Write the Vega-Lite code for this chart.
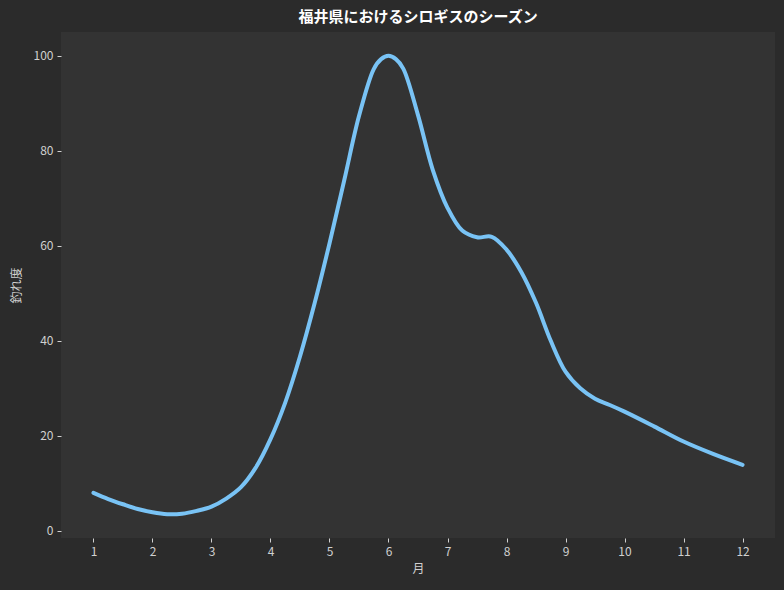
{
  "$schema": "https://vega.github.io/schema/vega-lite/v6.json",
  "width": 714,
  "height": 506,
  "autosize": {"type": "none"},
  "padding": {"left": 61, "top": 32, "right": 9, "bottom": 52},
  "background": "#2b2b2b",
  "title": {
    "text": "福井県におけるシロギスのシーズン",
    "font": "Noto Sans CJK JP",
    "fontSize": 15,
    "fontWeight": "bold",
    "color": "#ffffff",
    "anchor": "middle",
    "offset": 7
  },
  "config": {
    "view": {"fill": "#333333", "stroke": null},
    "axis": {
      "domain": false,
      "grid": false,
      "tickColor": "#d0d0d0",
      "tickSize": 4,
      "tickWidth": 1,
      "labelColor": "#d0d0d0",
      "labelFont": "Noto Sans CJK JP",
      "labelFontSize": 12,
      "labelPadding": 4,
      "titleColor": "#d0d0d0",
      "titleFont": "Noto Sans CJK JP",
      "titleFontSize": 12,
      "titleFontWeight": "normal"
    }
  },
  "data": {
    "values": [
      {"month": 1.0, "score": 8.0},
      {"month": 1.25, "score": 6.7},
      {"month": 1.5, "score": 5.6},
      {"month": 1.75, "score": 4.6},
      {"month": 2.0, "score": 3.9},
      {"month": 2.25, "score": 3.5},
      {"month": 2.5, "score": 3.6},
      {"month": 2.75, "score": 4.2},
      {"month": 3.0, "score": 5.1},
      {"month": 3.25, "score": 6.8},
      {"month": 3.5, "score": 9.2},
      {"month": 3.75, "score": 13.3},
      {"month": 4.0, "score": 19.3},
      {"month": 4.25, "score": 27.0},
      {"month": 4.5, "score": 36.7},
      {"month": 4.75, "score": 48.0},
      {"month": 5.0, "score": 60.5},
      {"month": 5.25, "score": 73.8},
      {"month": 5.5, "score": 87.3},
      {"month": 5.75, "score": 97.2},
      {"month": 5.875, "score": 99.3},
      {"month": 6.0, "score": 100.0},
      {"month": 6.125, "score": 99.3},
      {"month": 6.25, "score": 97.3},
      {"month": 6.5, "score": 87.5},
      {"month": 6.75, "score": 76.0},
      {"month": 7.0, "score": 68.0},
      {"month": 7.25, "score": 63.2},
      {"month": 7.5, "score": 61.8},
      {"month": 7.75, "score": 61.9},
      {"month": 8.0, "score": 59.2},
      {"month": 8.25, "score": 54.5},
      {"month": 8.5, "score": 48.0},
      {"month": 8.75, "score": 40.0},
      {"month": 9.0, "score": 33.5},
      {"month": 9.25, "score": 30.0},
      {"month": 9.5, "score": 27.8},
      {"month": 9.75, "score": 26.5},
      {"month": 10.0, "score": 25.1},
      {"month": 10.5, "score": 22.0},
      {"month": 11.0, "score": 18.8},
      {"month": 11.5, "score": 16.2},
      {"month": 12.0, "score": 13.9}
    ]
  },
  "mark": {"type": "line", "color": "#79c3f5", "strokeWidth": 4, "interpolate": "catmull-rom", "strokeCap": "round"},
  "encoding": {
    "x": {
      "field": "month",
      "type": "quantitative",
      "title": "月",
      "scale": {"domain": [0.45, 12.55], "nice": false, "zero": false},
      "axis": {"values": [1,2,3,4,5,6,7,8,9,10,11,12], "titlePadding": 6}
    },
    "y": {
      "field": "score",
      "type": "quantitative",
      "title": "釣れ度",
      "scale": {"domain": [-1.5, 105], "nice": false, "zero": false},
      "axis": {"values": [0,20,40,60,80,100], "titlePadding": 10}
    }
  }
}
